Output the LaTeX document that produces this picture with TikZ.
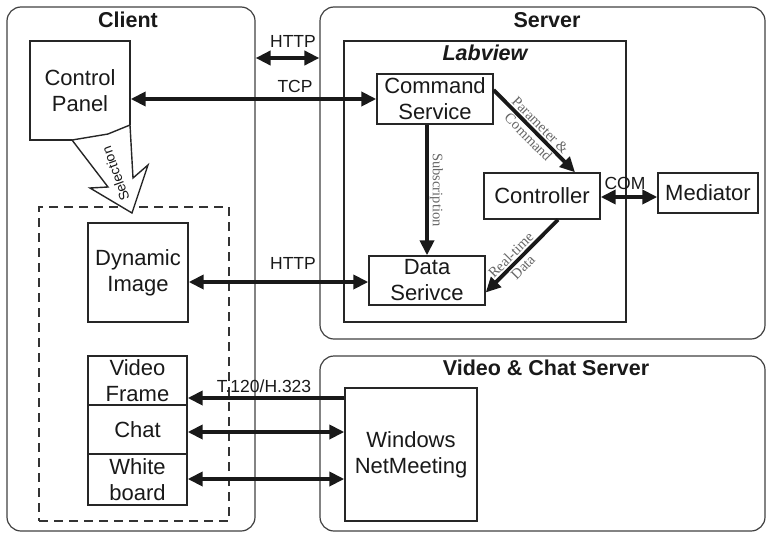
\documentclass[tikz,border=0pt]{standalone}
\usepackage{fontspec}
\setmainfont{Liberation Sans}
\newfontfamily\lblserif{Liberation Serif}
\usetikzlibrary{arrows.meta}
\begin{document}
\begin{tikzpicture}[x=1pt,y=-1pt,
  frame/.style={draw=black!75, line width=1.2pt, rounded corners=14pt, inner sep=0pt},
  plainbox/.style={draw=black!85, line width=1.4pt, inner sep=0pt},
  box/.style={draw=black!85, line width=1.4pt, fill=white, align=center, inner sep=0pt,
    font=\fontsize{22}{26}\selectfont, text=black!90},
  title/.style={font=\bfseries\fontsize{21.5}{24}\selectfont, text=black!90},
  lab/.style={font=\fontsize{17.5}{20}\selectfont, text=black!90},
  slab/.style={font=\lblserif\fontsize{14.5}{17}\selectfont, text=black!60, align=center, inner sep=1pt},
  conn/.style={draw=black!90, line width=3.8pt, -{Triangle[length=15pt,width=14pt]}},
  dconn/.style={draw=black!90, line width=3.8pt, {Triangle[length=15pt,width=14pt]}-{Triangle[length=15pt,width=14pt]}}
]
\useasboundingbox (0,0) rectangle (767,535);

% frames
\node[frame, minimum width=248pt, minimum height=524pt] (client) at (131,269) {};
\node[frame, minimum width=445pt, minimum height=332pt] (server) at (542.5,173) {};
\node[frame, minimum width=445pt, minimum height=175pt] (vcs) at (542.5,443.5) {};
\node[plainbox, minimum width=282pt, minimum height=281pt] (labview) at (485,181.5) {};

\node[title] (tclient) at (128,20) {Client};
\node[title] (tserver) at (547,20) {Server};
\node[title, font=\bfseries\itshape\fontsize{21.5}{24}\selectfont] (tlab) at (485,53) {Labview};
\node[title] (tvcs) at (546,368) {Video \& Chat Server};

% client group (dashed)
\node[draw=black!80, line width=1.4pt, dash pattern=on 9pt off 6pt,
      minimum width=190pt, minimum height=314pt, inner sep=0pt] (grp) at (134,364) {};

% server boxes
\node[box, minimum width=116pt, minimum height=50pt] (cs) at (435,99) {Command\\Service};
\node[box, minimum width=116pt, minimum height=46pt] (ctl) at (542,196) {Controller};
\node[box, minimum width=100pt, minimum height=40pt] (med) at (708,193) {Mediator};
\node[box, minimum width=116pt, minimum height=49pt] (ds) at (427,280.5) {Data\\Serivce};

% client boxes
\node[box, minimum width=100pt, minimum height=99pt] (di) at (138,272.5) {Dynamic\\Image};
\node[box, minimum width=99pt, minimum height=49pt] (vf) at (137.5,380.5) {Video\\Frame};
\node[box, minimum width=99pt, minimum height=49pt] (chat) at (137.5,429.5) {Chat};
\node[box, minimum width=99pt, minimum height=51pt] (wb) at (137.5,479.5) {White\\board};

% video server box
\node[box, minimum width=132pt, minimum height=133pt] (nm) at (411,454.5) {Windows\\NetMeeting};

% control panel (corner covered by selection arrow)
\node[box, draw=none, fill=none, minimum width=100pt, minimum height=99pt] (cp) at (80,90.5) {Control\\Panel};
\draw[draw=black!85, line width=1.4pt] (130,125) -- (130,41) -- (30,41) -- (30,140) -- (72,140);
\draw[draw=black!85, line width=1.4pt, fill=white, line join=miter]
  (72,140) -- (108,134) -- (130,125) -- (133,178) -- (148,165) -- (132,213) -- (90,188) -- (108,187) -- cycle;
\node[font=\fontsize{13.8}{15}\selectfont, text=black!90, rotate=110] (sel) at (115.5,174) {Selection};

% connectors
\coordinate (hy) at (0,58);
\draw[dconn] (client.east |- hy) -- (server.west |- hy);
\node[lab] (lhttp1) at (293,41) {HTTP};

\draw[dconn] (cp.east |- cs.west) -- (cs.west);
\node[lab] (ltcp) at (295,86) {TCP};

\coordinate (hy2) at (0,282);
\draw[dconn] (di.east |- hy2) -- (ds.west |- hy2);
\node[lab] (lhttp2) at (293,263) {HTTP};

\draw[conn] (ds.north |- cs.south) -- (ds.north)
  node[midway, slab, rotate=-90, anchor=south] (lsub) {Subscription};

\draw[conn] ([yshift=9pt]cs.east) -- ([xshift=33pt]ctl.north)
  node[midway, slab, sloped] (lpar) {Parameter \&\\Command};

\draw[conn] ([xshift=16pt]ctl.south) -- ([yshift=-12pt]ds.east)
  node[pos=0.55, slab, sloped, xshift=-2pt] (lrt) {Real-time\\Data};

\coordinate (cy) at (0,197);
\draw[dconn] (ctl.east |- cy) -- (med.west |- cy);
\node[lab] (lcom) at (625,183) {COM};

\coordinate (ty) at (0,398);
\draw[conn] (nm.west |- ty) -- (vf.east |- ty);
\node[lab] (lt120) at (264,386) {T.120/H.323};

\coordinate (chy) at (0,432);
\draw[dconn] (chat.east |- chy) -- (nm.west |- chy);
\coordinate (wby) at (0,479);
\draw[dconn] (wb.east |- wby) -- (nm.west |- wby);
\end{tikzpicture}
\end{document}
